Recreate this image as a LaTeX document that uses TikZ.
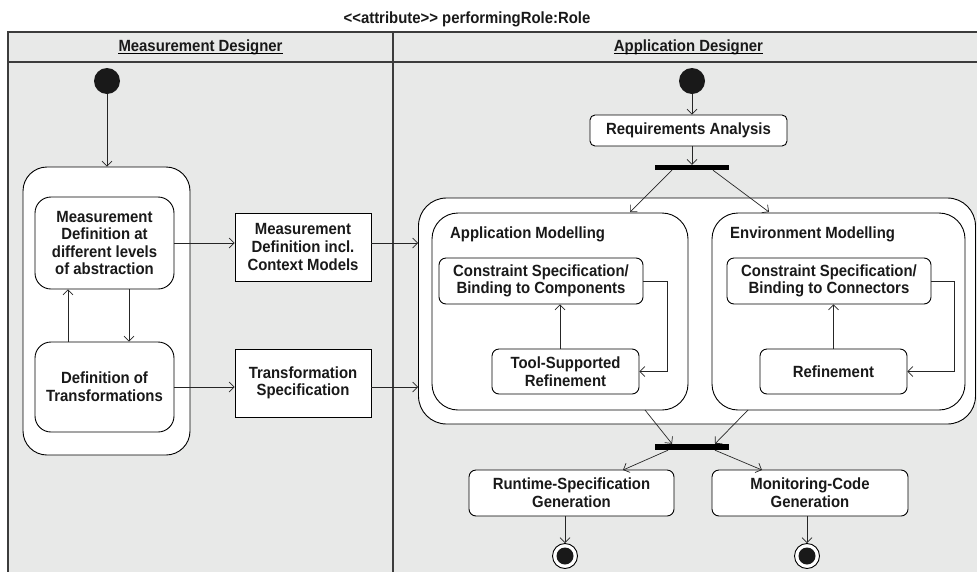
\documentclass[tikz,border=0pt]{standalone}
\usepackage{fontspec}
\setmainfont[FakeStretch=0.92]{Liberation Sans}
\usetikzlibrary{arrows.meta,calc}
\definecolor{lanegray}{RGB}{232,233,232}
\definecolor{framecol}{RGB}{60,60,60}
\tikzset{
  txt/.style={font=\fontsize{16.2}{17.6}\selectfont\bfseries, align=center, text=black!90},
  actbox/.style={txt, draw=black, line width=0.9pt, fill=white, rounded corners=7pt, inner sep=0pt},
  objbox/.style={txt, draw=black, line width=0.9pt, fill=white, inner sep=0pt},
  region/.style={draw=black, line width=0.9pt, fill=white, inner sep=0pt},
  flow/.style={line width=0.7pt, draw=black!85, -{Straight Barb[length=5pt,width=10pt,line width=0.7pt]}},
  bar/.style={fill=black, draw=none, inner sep=0pt},
  initnode/.style={circle, fill=black!90, draw=none, minimum size=26pt, inner sep=0pt},
  lbl/.style={txt, inner sep=0pt}
}
\begin{document}
\begin{tikzpicture}[x=1pt,y=-1pt]
\useasboundingbox (0,0) rectangle (977,571);
% swimlanes
\fill[lanegray] (8,32) rectangle (990,580);
\draw[framecol, line width=1.3pt] (990,32) -- (8,32) -- (8,580);
\draw[framecol, line width=1.3pt] (8,62) -- (990,62);
\draw[framecol, line width=1.3pt] (393,32) -- (393,580);
\node[lbl, anchor=base] (title) at (467,23) {<{}<attribute>{}> performingRole:Role};
\node[lbl, anchor=base] (mdh) at (200.5,51) {Measurement Designer};
\draw[line width=0.8pt] ([yshift=-2.2pt]mdh.base west) -- ([yshift=-2.2pt]mdh.base east);
\node[lbl, anchor=base] (adh) at (688.5,51) {Application Designer};
\draw[line width=0.8pt] ([yshift=-2.2pt]adh.base west) -- ([yshift=-2.2pt]adh.base east);

% left lane
\node[initnode] (i1) at (107,81) {};
\node[region, rounded corners=24pt, minimum width=167pt, minimum height=288pt] (outerL) at (106.5,311) {};
\node[actbox, rounded corners=16pt, minimum width=139pt, minimum height=92pt] (mdal) at (104.5,243) {Measurement\\Definition at\\different levels\\of abstraction};
\node[actbox, rounded corners=16pt, minimum width=139pt, minimum height=90pt] (dot) at (104.5,387) {Definition of\\Transformations};
\node[objbox, minimum width=136pt, minimum height=68pt] (mdcm) at (303,247) {Measurement\\Definition incl.\\Context Models};
\node[objbox, minimum width=136pt, minimum height=68pt] (ts) at (303,383) {Transformation\\Specification};

% right lane
\node[initnode] (i2) at (692,81) {};
\node[actbox, rounded corners=5pt, minimum width=197pt, minimum height=31pt] (ra) at (688.5,130.5) {Requirements Analysis};
\node[bar, minimum width=74pt, minimum height=5pt] (fork) at (692,167.5) {};
\node[region, rounded corners=28pt, minimum width=557pt, minimum height=226pt] (big) at (697,311) {};
\node[region, rounded corners=26pt, minimum width=256pt, minimum height=197pt] (app) at (560,311.5) {};
\node[region, rounded corners=26pt, minimum width=253pt, minimum height=197pt] (env) at (838.5,311.5) {};
\node[lbl, anchor=base west] (appl) at (450,238) {Application Modelling};
\node[lbl, anchor=base west] (envl) at (730,238) {Environment Modelling};
\node[actbox, minimum width=204pt, minimum height=46pt] (cs1) at (541,281) {Constraint Specification/\\Binding to Components};
\node[actbox, minimum width=147pt, minimum height=45pt] (tsr) at (565.5,371.5) {Tool-Supported\\Refinement};
\node[actbox, minimum width=204pt, minimum height=46pt] (cs2) at (829,281) {Constraint Specification/\\Binding to Connectors};
\node[actbox, minimum width=147pt, minimum height=45pt] (ref) at (833.5,371.5) {Refinement};
\node[bar, minimum width=74pt, minimum height=6pt] (join) at (692,447) {};
\node[actbox, minimum width=205pt, minimum height=46pt] (rsg) at (571.5,493) {Runtime-Specification\\Generation};
\node[actbox, minimum width=196pt, minimum height=46pt] (mcg) at (810,493) {Monitoring-Code\\Generation};
\node[circle, draw=black, line width=0.9pt, fill=white, minimum size=25pt, inner sep=0pt] (f1) at (565,556) {};
\fill[black!90] (f1.center) circle (8.5pt);
\node[circle, draw=black, line width=0.9pt, fill=white, minimum size=25pt, inner sep=0pt] (f2) at (807,556) {};
\fill[black!90] (f2.center) circle (8.5pt);

% connectors left
\draw[flow] (i1) -- (outerL.north -| i1);
\draw[flow] (mdal.east) -- (mdal.east -| mdcm.west);
\draw[flow] (mdal.east -| mdcm.east) -- (mdal.east -| big.west);
\draw[flow] (dot.east) -- (dot.east -| ts.west);
\draw[flow] (dot.east -| ts.east) -- (dot.east -| big.west);
\coordinate (upx) at (68,0);
\coordinate (dnx) at (129,0);
\draw[flow] (dot.north -| upx) -- (mdal.south -| upx);
\draw[flow] (mdal.south -| dnx) -- (dot.north -| dnx);

% connectors right
\draw[flow] (i2) -- (ra.north -| i2);
\draw[flow] (ra.south -| fork) -- (fork.north);
\draw[flow] ([xshift=-20pt]fork.south) -- (630,212);
\draw[flow] ([xshift=21pt]fork.south) -- (769,212);
\draw[flow] (tsr.north -| 560,0) -- (cs1.south -| 560,0);
\draw[flow] (ref.north) -- (cs2.south -| ref.north);
\draw[flow] (cs1.east) -- (cs1.east -| 667,0) |- (tsr.east);
\draw[flow] (cs2.east) -- (cs2.east -| 954,0) |- (ref.east);
\draw[flow] (645,410) -- ([xshift=-20pt]join.north);
\draw[flow] (748,410) -- ([xshift=23pt]join.north);
\draw[flow] ([xshift=-24pt]join.south) -- (623,470);
\draw[flow] ([xshift=23pt]join.south) -- (762,470);
\draw[flow] (rsg.south -| f1) -- (f1.north);
\draw[flow] (mcg.south -| f2) -- (f2.north);
\end{tikzpicture}
\end{document}
